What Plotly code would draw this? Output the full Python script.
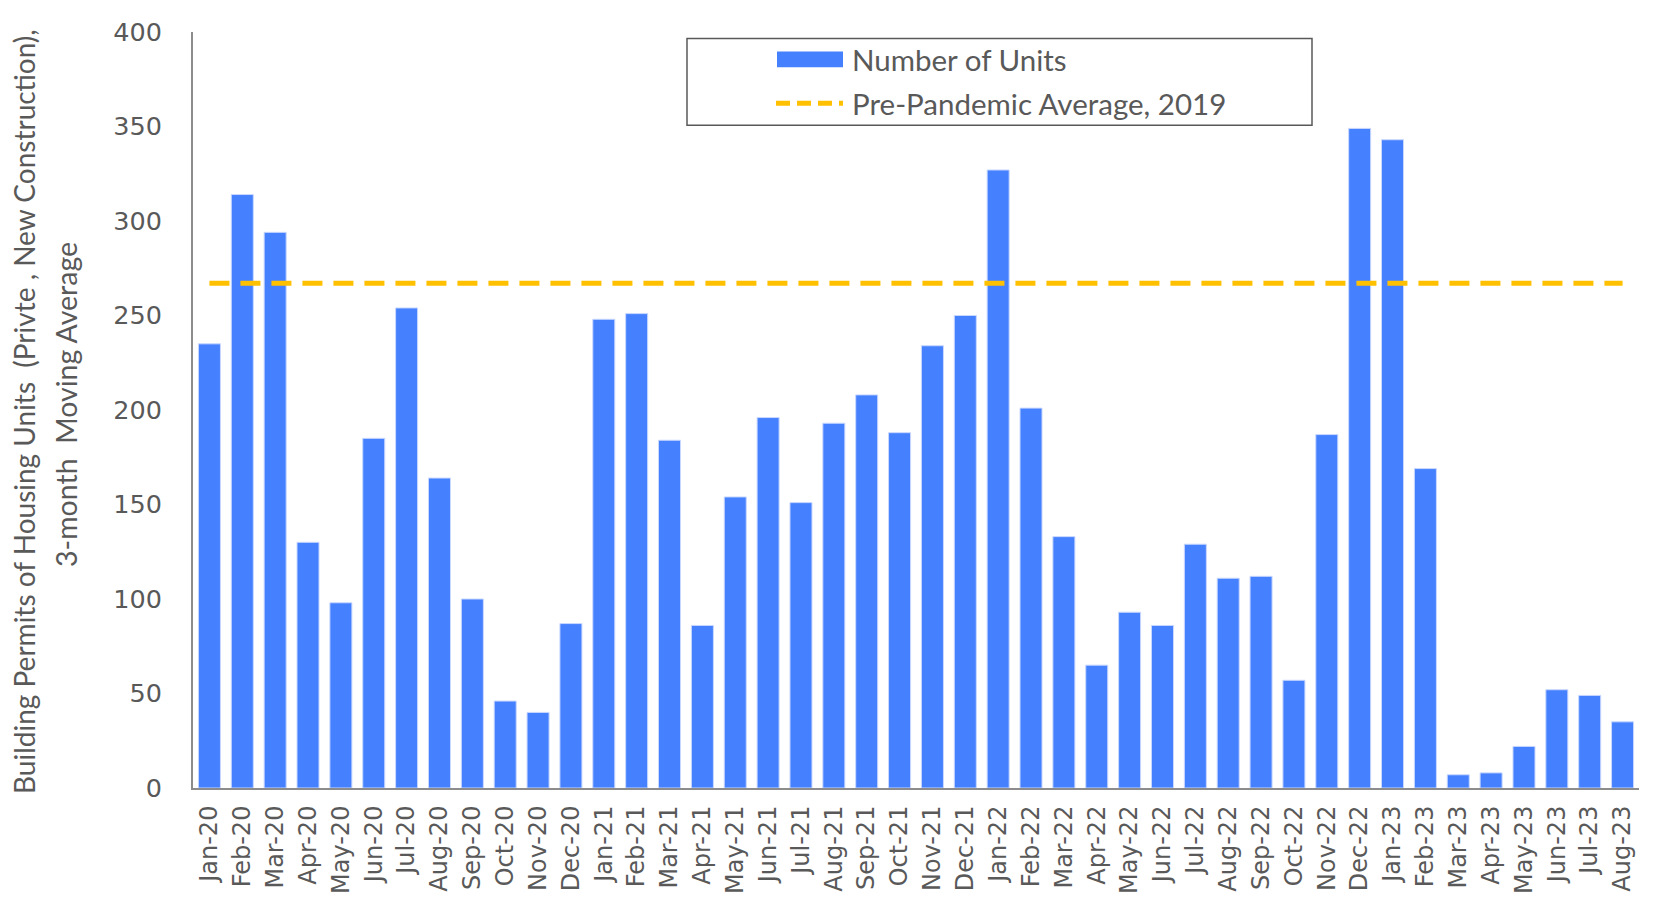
import plotly.graph_objects as go

months = ["Jan-20","Feb-20","Mar-20","Apr-20","May-20","Jun-20","Jul-20","Aug-20","Sep-20","Oct-20","Nov-20","Dec-20",
          "Jan-21","Feb-21","Mar-21","Apr-21","May-21","Jun-21","Jul-21","Aug-21","Sep-21","Oct-21","Nov-21","Dec-21",
          "Jan-22","Feb-22","Mar-22","Apr-22","May-22","Jun-22","Jul-22","Aug-22","Sep-22","Oct-22","Nov-22","Dec-22",
          "Jan-23","Feb-23","Mar-23","Apr-23","May-23","Jun-23","Jul-23","Aug-23"]
units = [235, 314, 294, 130, 98, 185, 254, 164, 100, 46, 40, 87,
         248, 251, 184, 86, 154, 196, 151, 193, 208, 188, 234, 250,
         327, 201, 133, 65, 93, 86, 129, 111, 112, 57, 187, 349,
         343, 169, 7, 8, 22, 52, 49, 35]
pre_pandemic_avg = 267
pre_line = [pre_pandemic_avg] * len(months)

BLUE = "#4580FF"
GOLD = "#FFC000"
GRAY = "#595959"

fig = go.Figure()
fig.add_trace(go.Bar(x=months, y=units, name="Number of Units", marker_color=BLUE,
                     marker_line=dict(color="#C9D8FF", width=1), showlegend=False))
fig.add_trace(go.Scatter(x=months, y=pre_line, mode="lines", name="Pre-Pandemic Average, 2019",
                         line=dict(color=GOLD, width=5, dash="20px,11px"), showlegend=False))

OFF = 8  # default body margin of the page
W, H = 1653 - 2 * OFF, 909 - 2 * OFF
# desired page-pixel plot bounds
PL, PR, PT, PB = 193, 1639, 31.6, 788.5
L = PL - OFF
T = PT - OFF
R = OFF + W - PR
B = OFF + H - PB
pw = PR - PL
ph = PB - PT

def px(x):
    return (x - PL) / pw

def py(y):
    return 1 - (y - PT) / ph

# custom legend
fig.add_shape(type="rect", xref="paper", yref="paper", x0=px(687), x1=px(1312), y0=py(38), y1=py(125),
              line=dict(color=GRAY, width=1.5), fillcolor="white", layer="above")
fig.add_shape(type="rect", xref="paper", yref="paper", x0=px(777), x1=px(843), y0=py(51), y1=py(67),
              line=dict(width=0), fillcolor=BLUE, layer="above")
fig.add_shape(type="line", xref="paper", yref="paper", x0=px(776), x1=px(843), y0=py(103), y1=py(103),
              line=dict(color=GOLD, width=5, dash="14px,7px"), layer="above")
fig.add_annotation(xref="paper", yref="paper", x=px(850), y=py(59), text="Number of Units", showarrow=False,
                   xanchor="left", yanchor="middle", font=dict(family="Lato", size=29.5, color=GRAY))
fig.add_annotation(xref="paper", yref="paper", x=px(850), y=py(103), text="Pre-Pandemic Average, 2019", showarrow=False,
                   xanchor="left", yanchor="middle", font=dict(family="Lato", size=29.5, color=GRAY))

# y axis title (two lines)
fig.add_annotation(xref="paper", yref="paper", x=px(24), y=py(412),
                   text="Building Permits of Housing Units\u00a0 (Privte , New Construction),", textangle=-90,
                   showarrow=False, xanchor="center", yanchor="middle",
                   font=dict(family="Lato", size=28, color=GRAY))
fig.add_annotation(xref="paper", yref="paper", x=px(66), y=py(405),
                   text="3-month\u00a0 Moving Average", textangle=-90,
                   showarrow=False, xanchor="center", yanchor="middle",
                   font=dict(family="Lato", size=28.5, color=GRAY))

fig.update_layout(
    width=W, height=H,
    margin=dict(l=L, r=R, t=T, b=B, autoexpand=False),
    paper_bgcolor="white", plot_bgcolor="white",
    bargap=0.33,
    showlegend=False,
)
fig.update_yaxes(range=[0, 400], dtick=50, showgrid=False, zeroline=False,
                 showline=True, linecolor="#8C8C8C", linewidth=2,
                 ticks="", ticklabelstandoff=24,
                 tickfont=dict(family="DejaVu Sans", size=25.5, color=GRAY))
fig.update_xaxes(range=[-0.5, len(months) - 0.5], showgrid=False, zeroline=False,
                 showline=True, linecolor="#8C8C8C", linewidth=2,
                 ticks="", tickangle=-90, ticklabelstandoff=6,
                 tickfont=dict(family="DejaVu Sans", size=24, color=GRAY))

fig.write_html("out.html")
